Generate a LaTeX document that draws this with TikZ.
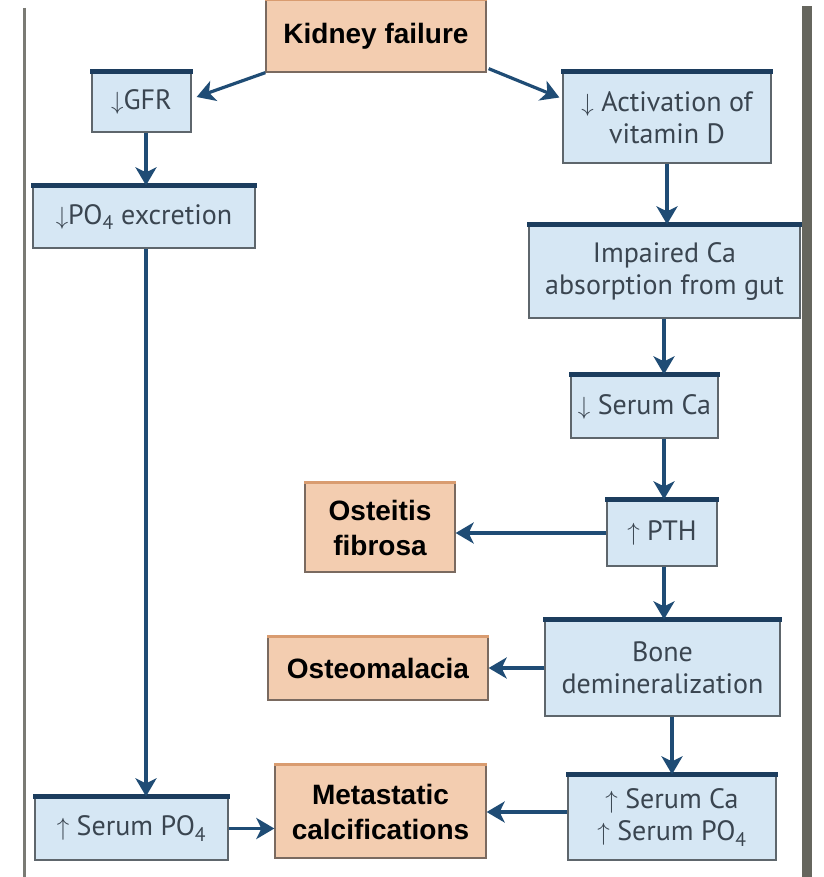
\documentclass[tikz,border=0pt]{standalone}
\usepackage{fontspec}
\usetikzlibrary{arrows.meta,calc}
\newfontfamily\bluefont{PT Sans}
\newfontfamily\orfont{Liberation Sans}
\definecolor{boxblue}{HTML}{D6E7F4}
\definecolor{boxorange}{HTML}{F3CDB0}
\definecolor{bandnavy}{HTML}{1C3D5E}
\definecolor{bandorange}{HTML}{D99C70}
\definecolor{arrownavy}{HTML}{1F4C75}
\definecolor{bordergray}{HTML}{5E666C}
\definecolor{orborder}{HTML}{7A6A60}
\definecolor{bluetext}{HTML}{3A4550}
\definecolor{leftgray}{HTML}{7A7A74}
\definecolor{rightgray}{HTML}{66665E}
\tikzset{
  bluebox/.style={draw=bordergray, line width=1.3pt, fill=boxblue, text=bluetext,
    font=\bluefont\fontsize{28}{32}\selectfont, align=center, inner sep=0pt},
  orbox/.style={draw=orborder, line width=1.3pt, fill=boxorange, text=black,
    font=\orfont\bfseries\fontsize{28}{35}\selectfont, align=center, inner sep=0pt},
  band/.style={line width=5pt, draw=bandnavy},
  oband/.style={line width=3pt, draw=bandorange},
  arr/.style={line width=3.2pt, draw=arrownavy,
    -{Stealth[width=21pt,length=18pt,inset=5pt]}}
}
\begin{document}
\begin{tikzpicture}[x=1pt,y=-1pt]
\fill[white] (0,0) rectangle (823,877);
\useasboundingbox (0,0) rectangle (823,877);
% frame lines
\draw[line width=3pt, leftgray] (24,8) -- (24,877);
\fill[rightgray] (802,6) rectangle (812,877);

% orange boxes
\node[orbox, minimum width=220pt, minimum height=72pt] (kf) at (376,36) {Kidney failure};
\node[orbox, minimum width=150pt, minimum height=89pt] (ost) at (380,527.5) {Osteitis\\fibrosa};
\node[orbox, minimum width=220pt, minimum height=63pt] (osm) at (378,668.5) {Osteomalacia};
\node[orbox, minimum width=211pt, minimum height=93pt] (meta) at (380.5,811.5) {Metastatic\\calcifications};

% blue boxes
\node[bluebox, minimum width=99pt, minimum height=60pt] (gfr) at (141.5,102) {$\downarrow$GFR};
\node[bluebox, minimum width=208pt, minimum height=91pt] (vitd) at (667,117.5) {$\downarrow$ Activation of\\vitamin D};
\node[bluebox, minimum width=222pt, minimum height=62pt] (po4ex) at (144,217) {$\downarrow$PO\textsubscript{4} excretion};
\node[bluebox, minimum width=271pt, minimum height=93pt] (imp) at (664.5,271.5) {Impaired Ca\\absorption from gut};
\node[bluebox, minimum width=147pt, minimum height=63pt] (sca) at (644.5,406.5) {$\downarrow$ Serum Ca};
\node[bluebox, minimum width=110pt, minimum height=66pt] (pth) at (662,533) {$\uparrow$ PTH};
\node[bluebox, minimum width=235pt, minimum height=96pt] (bone) at (662.5,668) {Bone\\demineralization};
\node[bluebox, minimum width=208pt, minimum height=85pt] (scapo) at (672,817.5) {$\uparrow$ Serum Ca\\$\uparrow$ Serum PO\textsubscript{4}};
\node[bluebox, minimum width=193pt, minimum height=63pt] (spo) at (131.5,828.5) {$\uparrow$ Serum PO\textsubscript{4}};

% top bands
\foreach \n in {gfr,vitd,po4ex,imp,sca,pth,bone,scapo,spo}
  \draw[band] ([xshift=-1pt]\n.north west) -- ([xshift=1pt]\n.north east);
\foreach \n in {kf,ost,osm,meta}
  \draw[oband] (\n.north west) -- (\n.north east);

% connectors
\draw[arr] (kf.south west) -- ($(gfr.east)+(5,-5)$);
\draw[arr] ($(kf.south east)+(2,-4)$) -- ($(vitd.west)+(-3,-20)$);
\draw[arr] (gfr.south -| 146,0) -- (po4ex.north -| 146,0);
\draw[arr] (po4ex.south -| 146,0) -- (spo.north -| 146,0);
\draw[arr] (vitd.south -| 667,0) -- (imp.north -| 667,0);
\draw[arr] (imp.south -| 664,0) -- (sca.north -| 664,0);
\draw[arr] (sca.south -| 664,0) -- (pth.north -| 664,0);
\draw[arr] (pth.west) -- (ost.east |- pth.west);
\draw[arr] (pth.south -| 664,0) -- (bone.north -| 664,0);
\draw[arr] (bone.west) -- (osm.east |- bone.west);
\draw[arr] (bone.south -| 672,0) -- (scapo.north -| 672,0);
\draw[arr] (scapo.west |- 0,812) -- (meta.east |- 0,812);
\draw[arr] (spo.east) -- (meta.west |- spo.east);
\end{tikzpicture}
\end{document}
